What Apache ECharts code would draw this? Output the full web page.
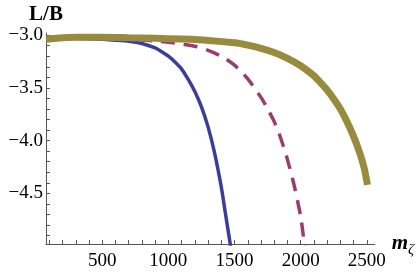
<!DOCTYPE html>
<html>
<head>
<meta charset="utf-8">
<script src="https://cdn.jsdelivr.net/npm/echarts@6/dist/echarts.min.js"></script>
<style>
html,body{margin:0;padding:0;background:#fff;}
#c{width:417px;height:274px;}
</style>
</head>
<body>
<div id="c"></div>
<script>
// Data
const blueX = [75, 200, 300, 400, 500, 600, 700, 800, 900, 950, 1000, 1050, 1100, 1150, 1200, 1250, 1300, 1350, 1400, 1430, 1470];
const blueY = [-3.025, -3.027, -3.03, -3.035, -3.04, -3.048, -3.058, -3.08, -3.122, -3.157, -3.2, -3.255, -3.322, -3.42, -3.535, -3.68, -3.87, -4.12, -4.44, -4.68, -5.0];

const dashX = [75, 300, 500, 700, 900, 1000, 1100, 1200, 1300, 1400, 1500, 1600, 1700, 1750, 1800, 1850, 1900, 1950, 2000, 2030];
const dashY = [-3.02, -3.025, -3.03, -3.04, -3.055, -3.068, -3.085, -3.105, -3.145, -3.2, -3.285, -3.415, -3.59, -3.7, -3.82, -3.98, -4.18, -4.42, -4.72, -5.0];

const goldX = [75, 200, 300, 500, 700, 900, 1100, 1300, 1500, 1600, 1700, 1800, 1900, 2000, 2100, 2150, 2200, 2250, 2300, 2350, 2400, 2450, 2480, 2505];
const goldY = [-3.04, -3.025, -3.02, -3.02, -3.025, -3.03, -3.038, -3.05, -3.073, -3.095, -3.125, -3.165, -3.22, -3.29, -3.385, -3.45, -3.52, -3.605, -3.7, -3.82, -3.96, -4.13, -4.26, -4.42];

const xTickLabels = [500, 1000, 1500, 2000, 2500];
const xMinorTicks = [100, 200, 300, 400, 500, 600, 700, 800, 900, 1000, 1100, 1200, 1300, 1400, 1500, 1600, 1700, 1800, 1900, 2000, 2100, 2200, 2300, 2400, 2500];
const yTickLabels = [-4.5, -4.0, -3.5, -3.0];
const yMinorTicks = [-4.9, -4.8, -4.7, -4.6, -4.5, -4.4, -4.3, -4.2, -4.1, -4.0, -3.9, -3.8, -3.7, -3.6, -3.5, -3.4, -3.3, -3.2, -3.1, -3.0];

function pairs(xs, ys) { return xs.map((x, i) => [x, ys[i]]); }

const font = '"Liberation Serif", "DejaVu Serif", serif';
const axisColor = '#555555';

const chart = echarts.init(document.getElementById('c'), null, {renderer: 'canvas'});
chart.setOption({
  animation: false,
  backgroundColor: '#ffffff',
  grid: {left: 46, right: 37, top: 33, bottom: 30, containLabel: false},
  xAxis: {
    type: 'value',
    min: 75, max: 2560,
    name: '{m|m}{z|ζ}',
    nameLocation: 'end',
    nameGap: 8,
    nameTextStyle: {
      align: 'left', verticalAlign: 'middle',
      rich: {
        m: {fontFamily: font, fontSize: 21, fontWeight: 'bold', fontStyle: 'italic', color: '#000'},
        z: {fontFamily: font, fontSize: 15, fontStyle: 'italic', color: '#000', padding: [12, 0, 0, 0]}
      }
    },
    axisLine: {show: true, onZero: false, lineStyle: {color: axisColor, width: 1}},
    axisTick: {show: true, inside: true, length: 4, customValues: xMinorTicks, lineStyle: {color: axisColor}},
    axisLabel: {
      customValues: xTickLabels,
      fontFamily: font, fontSize: 19, color: '#000', margin: 8,
      formatter: v => String(v)
    },
    splitLine: {show: false}
  },
  yAxis: {
    type: 'value',
    min: -4.98, max: -2.98,
    name: 'L/B',
    nameLocation: 'end',
    nameGap: 18,
    nameTextStyle: {fontFamily: font, fontSize: 21, fontWeight: 'bold', color: '#000', align: 'center', verticalAlign: 'middle'},
    axisLine: {show: true, onZero: false, lineStyle: {color: axisColor, width: 1}},
    axisTick: {show: true, inside: true, length: 4, customValues: yMinorTicks, lineStyle: {color: axisColor}},
    axisLabel: {
      customValues: yTickLabels,
      fontFamily: font, fontSize: 19, color: '#000', margin: 3,
      formatter: v => (v < 0 ? '\u2212' : '') + Math.abs(v).toFixed(1)
    },
    splitLine: {show: false}
  },
  series: [
    {type: 'line', data: pairs(blueX, blueY), showSymbol: false, symbol: 'none', smooth: 0.25,
     lineStyle: {color: '#3D3D99', width: 3.5}, z: 2},
    {type: 'line', data: pairs(dashX, dashY), showSymbol: false, symbol: 'none', smooth: 0.25,
     lineStyle: {color: '#993D71', width: 3.5, type: [14, 9]}, z: 3},
    {type: 'line', data: pairs(goldX, goldY), showSymbol: false, symbol: 'none', smooth: 0.25,
     lineStyle: {color: '#998B3D', width: 7, cap: 'butt'}, z: 4}
  ]
});
</script>
</body>
</html>
